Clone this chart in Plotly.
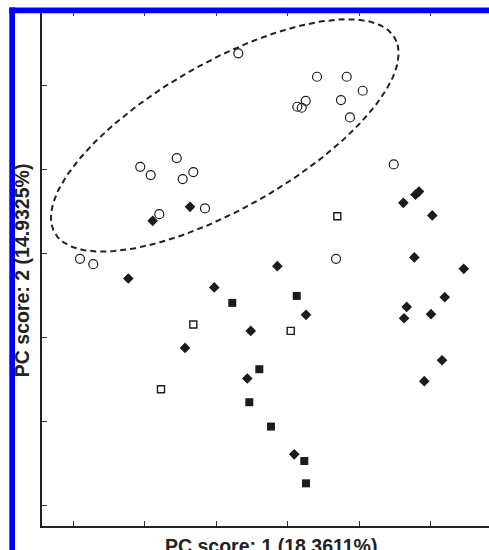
import numpy as np
import plotly.graph_objects as go

# ---- data (PC1, PC2 scores) ----
circle_x = [-0.691, 0.410, 0.825, 1.049, 0.252, 0.134, 0.196, 0.745, 0.871, 1.483,
            -2.062, -1.916, -1.552, -1.469, -1.320, -1.796, -1.157, -2.905, -2.719, 0.676]
circle_y = [3.389, 3.110, 3.110, 2.943, 2.823, 2.752, 2.740, 2.832, 2.625, 2.064,
            2.036, 1.937, 2.140, 1.889, 1.973, 1.471, 1.539, 0.938, 0.875, 0.938]

diamond_x = [1.787, 1.836, 1.617, 2.022, 1.771, 2.462, 2.196, 1.664, 1.627, 2.004, 2.158, 1.910,
             -1.366, -1.888, -2.229, -1.027, -0.145, 0.256, -0.517, -1.436, -0.565, 0.092]
diamond_y = [1.704, 1.740, 1.606, 1.456, 0.955, 0.819, 0.481, 0.365, 0.230, 0.278, -0.271, -0.521,
             1.558, 1.391, 0.704, 0.597, 0.851, 0.270, 0.079, -0.124, -0.489, -1.393]

fsquare_x = [-0.775, 0.126, -0.397, -0.537, -0.234, 0.232, 0.256]
fsquare_y = [0.413, 0.496, -0.378, -0.772, -1.062, -1.473, -1.739]

osquare_x = [0.694, -1.320, 0.042, -1.772]
osquare_y = [1.447, 0.155, 0.079, -0.617]

x_ticks = [-3, -2, -1, 0, 1, 2]
y_ticks = [-2, -1, 0, 1, 2, 3]

# confidence ellipse parameters
ell_cx, ell_cy = -0.88, 2.41
ell_a, ell_b = 2.65, 0.90
ell_angle_deg = 25.0

x_title = "PC score: 1 (18.3611%)"
y_title = "PC score: 2 (14.9325%)"

# ---- ellipse curve ----
t = np.linspace(0, 2 * np.pi, 300)
th = np.deg2rad(ell_angle_deg)
ex = ell_cx + ell_a * np.cos(t) * np.cos(th) - ell_b * np.sin(t) * np.sin(th)
ey = ell_cy + ell_a * np.cos(t) * np.sin(th) + ell_b * np.sin(t) * np.cos(th)

ink = "#1c1c1c"
fig = go.Figure()
fig.add_trace(go.Scatter(x=ex, y=ey, mode="lines",
                         line=dict(color="#222222", width=2, dash="6px,4px"),
                         hoverinfo="skip"))
fig.add_trace(go.Scatter(x=diamond_x, y=diamond_y, mode="markers",
                         marker=dict(symbol="diamond", size=8.2, color=ink,
                                     line=dict(width=0))))
fig.add_trace(go.Scatter(x=fsquare_x, y=fsquare_y, mode="markers",
                         marker=dict(symbol="square", size=8, color=ink,
                                     line=dict(width=0))))
fig.add_trace(go.Scatter(x=osquare_x, y=osquare_y, mode="markers",
                         marker=dict(symbol="square-open", size=7, color=ink,
                                     line=dict(width=1.4, color=ink))))
fig.add_trace(go.Scatter(x=circle_x, y=circle_y, mode="markers",
                         marker=dict(symbol="circle-open", size=9, color=ink,
                                     line=dict(width=1.2, color=ink))))

# plot area geometry in pixels (for decorative frame)
W, H = 489, 550
ml, mt, mb, mr = 42, 11, 24.3, 0
pw = W - ml - mr
ph = H - mt - mb

def px2paper_x(p):
    return (p - ml) / pw

def py2paper_y(p):
    return (H - mb - p) / ph

blue = "#0000ff"
shapes = [
    dict(type="rect", xref="paper", yref="paper", layer="above",
         x0=px2paper_x(9.3), x1=px2paper_x(492), y0=py2paper_y(13.3), y1=py2paper_y(7.5),
         fillcolor=blue, line=dict(width=0)),
    dict(type="rect", xref="paper", yref="paper", layer="above",
         x0=px2paper_x(9.3), x1=px2paper_x(15.0), y0=py2paper_y(553), y1=py2paper_y(7.5),
         fillcolor=blue, line=dict(width=0)),
]

title_font = dict(family="Liberation Sans, Arial, sans-serif", size=19.5, color="#222222")
annotations = [
    dict(text="<b>%s</b>" % x_title, xref="paper", yref="paper",
         x=px2paper_x(270.5), y=py2paper_y(545.5), xanchor="center", yanchor="middle",
         showarrow=False, font=title_font),
    dict(text="<b>%s</b>" % y_title, xref="paper", yref="paper", textangle=-90,
         x=px2paper_x(22), y=py2paper_y(270), xanchor="center", yanchor="middle",
         showarrow=False, font=title_font),
]

axis_common = dict(showgrid=False, zeroline=False, showticklabels=False,
                   ticks="inside", ticklen=5, tickwidth=1.2, tickcolor="#333333",
                   showline=True, linewidth=2, linecolor="#222222")

fig.update_layout(
    width=W, height=H,
    margin=dict(l=ml, r=mr, t=mt, b=mb, pad=0),
    paper_bgcolor="white", plot_bgcolor="white",
    showlegend=False,
    xaxis=dict(range=[-3.436, 2.815], tickvals=x_ticks, mirror="ticks", **axis_common),
    yaxis=dict(range=[-2.248, 3.894], tickvals=y_ticks, mirror=False, **axis_common),
    shapes=shapes,
    annotations=annotations,
)

fig.write_html("out.html", config={"displayModeBar": False},
               post_script="document.body.style.margin='0';document.body.style.overflow='hidden';")
